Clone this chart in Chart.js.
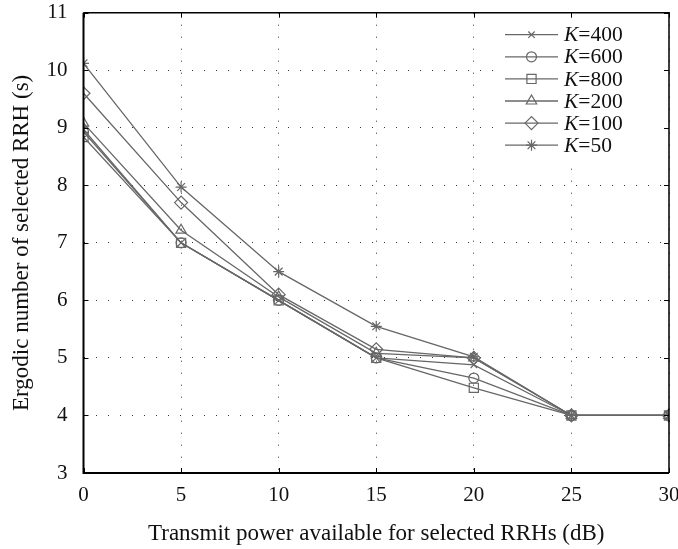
<!DOCTYPE html>
<html>
<head>
<meta charset="utf-8">
<script src="https://cdn.jsdelivr.net/npm/chart.js@4"></script>
<style>
  html, body { margin: 0; padding: 0; background: #fff; }
  #wrap { width: 678px; height: 549px; }
</style>
</head>
<body>
<div id="wrap"><canvas id="chart"></canvas></div>
<script>
// x values (dB)
const powerDb = [0, 5, 10, 15, 20, 25, 30];

// ergodic number of selected RRH per K
const k400 = [8.97, 7.0, 6.0, 5.0, 4.88, 4.0, 4.0];
const k600 = [8.93, 7.0, 6.0, 5.0, 4.65, 4.0, 4.0];
const k800 = [8.84, 7.0, 6.0, 5.0, 4.48, 4.0, 4.0];
const k200 = [9.08, 7.22, 6.06, 5.08, 5.0, 4.0, 4.0];
const k100 = [9.6, 7.7, 6.1, 5.15, 5.0, 4.0, 4.0];
const k50 = [10.12, 7.97, 6.5, 5.55, 5.02, 4.0, 4.0];

const seriesLabels = ['K=400', 'K=600', 'K=800', 'K=200', 'K=100', 'K=50'];
const seriesValues = [k400, k600, k800, k200, k100, k50];
const markers = ['crossRot', 'circle', 'rect', 'triangle', 'rectRot', 'star'];
const markerSize = [4.5, 5, 6.5, 6, 6.5, 5.5];

const yTicks = [3, 4, 5, 6, 7, 8, 9, 10, 11];
const xTicks = [0, 5, 10, 15, 20, 25, 30];

const lineColor = '#676767';
const serif = "'Liberation Serif', 'DejaVu Serif', serif";

function toPoints(vals) {
    return vals.map(function(v, i) { return {x: powerDb[i], y: v}; });
}

const datasets = seriesLabels.map(function(lab, i) {
    return {
        label: lab,
        data: toPoints(seriesValues[i]),
        borderColor: lineColor,
        borderWidth: 1.3,
        backgroundColor: 'rgba(0,0,0,0)',
        pointStyle: markers[i],
        pointRadius: markerSize[i],
        pointBorderColor: lineColor,
        pointBackgroundColor: 'rgba(0,0,0,0)',
        pointBorderWidth: 1.2,
        tension: 0
    };
});

// box round the plot with inward ticks
const framePlugin = {
    id: 'frame',
    afterDraw(chart) {
        const ctx = chart.ctx;
        const a = chart.chartArea;
        const xs = chart.scales.x, ys = chart.scales.y;
        ctx.save();
        ctx.strokeStyle = '#000';
        ctx.lineWidth = 1;
        ctx.beginPath();
        xTicks.forEach(function(t) {
            const px = Math.round(xs.getPixelForValue(t)) + 0.5;
            ctx.moveTo(px, a.bottom); ctx.lineTo(px, a.bottom - 5);
            ctx.moveTo(px, a.top); ctx.lineTo(px, a.top + 5);
        });
        yTicks.forEach(function(t) {
            const py = Math.round(ys.getPixelForValue(t)) + 0.5;
            ctx.moveTo(a.left, py); ctx.lineTo(a.left + 5, py);
            ctx.moveTo(a.right, py); ctx.lineTo(a.right - 5, py);
        });
        ctx.stroke();
        ctx.lineWidth = 1.5;
        ctx.beginPath();
        ctx.moveTo(a.left, a.top); ctx.lineTo(a.right, a.top); ctx.lineTo(a.right, a.bottom);
        ctx.stroke();
        ctx.lineWidth = 2;
        ctx.beginPath();
        ctx.moveTo(a.left, a.top); ctx.lineTo(a.left, a.bottom); ctx.lineTo(a.right, a.bottom);
        ctx.stroke();
        ctx.restore();
    }
};

// matlab style legend: line through marker, italic K
const legendPlugin = {
    id: 'kLegend',
    afterDatasetsDraw(chart) {
        const ctx = chart.ctx;
        const a = chart.chartArea;
        const x0 = a.right - 164, x1 = a.right - 111, tx = a.right - 105;
        const top = a.top + 22, step = 22.1;
        ctx.save();
        ctx.fillStyle = '#fff';
        ctx.fillRect(a.right - 176, a.top + 8, 168, 146);
        chart.data.datasets.forEach(function(ds, i) {
            const y = top + i * step;
            ctx.strokeStyle = lineColor;
            ctx.lineWidth = 1.3;
            ctx.beginPath();
            ctx.moveTo(x0, y); ctx.lineTo(x1, y);
            ctx.stroke();
            ctx.lineWidth = 1.2;
            ctx.fillStyle = 'rgba(0,0,0,0)';
            Chart.helpers.drawPoint(ctx, {pointStyle: ds.pointStyle, radius: ds.pointRadius, rotation: 0, borderWidth: 1.2}, (x0 + x1) / 2, y);
            const parts = ds.label.split('=');
            ctx.fillStyle = '#111';
            ctx.textBaseline = 'middle';
            ctx.textAlign = 'left';
            ctx.font = 'italic 21.5px ' + serif;
            ctx.fillText(parts[0], tx, y + 1);
            const w = ctx.measureText(parts[0]).width;
            ctx.font = '21.5px ' + serif;
            ctx.fillText('=' + parts[1], tx + w, y + 1);
        });
        ctx.restore();
    }
};

new Chart(document.getElementById('chart'), {
    type: 'line',
    data: {datasets: datasets},
    options: {
        responsive: true,
        maintainAspectRatio: false,
        animation: false,
        layout: {padding: {top: 12.7, right: 9, left: 0, bottom: 0}},
        plugins: {
            legend: {display: false},
            tooltip: {enabled: false}
        },
        scales: {
            x: {
                type: 'linear',
                min: 0,
                max: 30,
                afterFit: function(s) { s.height = 76; s.paddingLeft = 0; s.paddingRight = 0; },
                afterBuildTicks: function(s) { s.ticks = xTicks.map(function(v) { return {value: v}; }); },
                ticks: {
                    color: '#111',
                    padding: 10,
                    font: {family: serif, size: 21}
                },
                grid: {color: '#333', lineWidth: 1, drawTicks: false},
                border: {display: false, dash: [1, 11]},
                title: {
                    display: true,
                    text: 'Transmit power available for selected RRHs (dB)',
                    color: '#111',
                    font: {family: serif, size: 23},
                    padding: {top: 0, bottom: 1}
                }
            },
            y: {
                min: 3,
                max: 11,
                afterFit: function(s) { s.width = 83.5; s.paddingTop = 0; s.paddingBottom = 0; },
                afterBuildTicks: function(s) { s.ticks = yTicks.map(function(v) { return {value: v}; }); },
                ticks: {
                    color: '#111',
                    padding: 16,
                    font: {family: serif, size: 21}
                },
                grid: {color: '#333', lineWidth: 1, drawTicks: false},
                border: {display: false, dash: [1, 11]},
                title: {
                    display: true,
                    text: 'Ergodic number of selected RRH (s)',
                    color: '#111',
                    font: {family: serif, size: 23},
                    padding: {top: 8, bottom: 0}
                }
            }
        }
    },
    plugins: [framePlugin, legendPlugin]
});
</script>
</body>
</html>
